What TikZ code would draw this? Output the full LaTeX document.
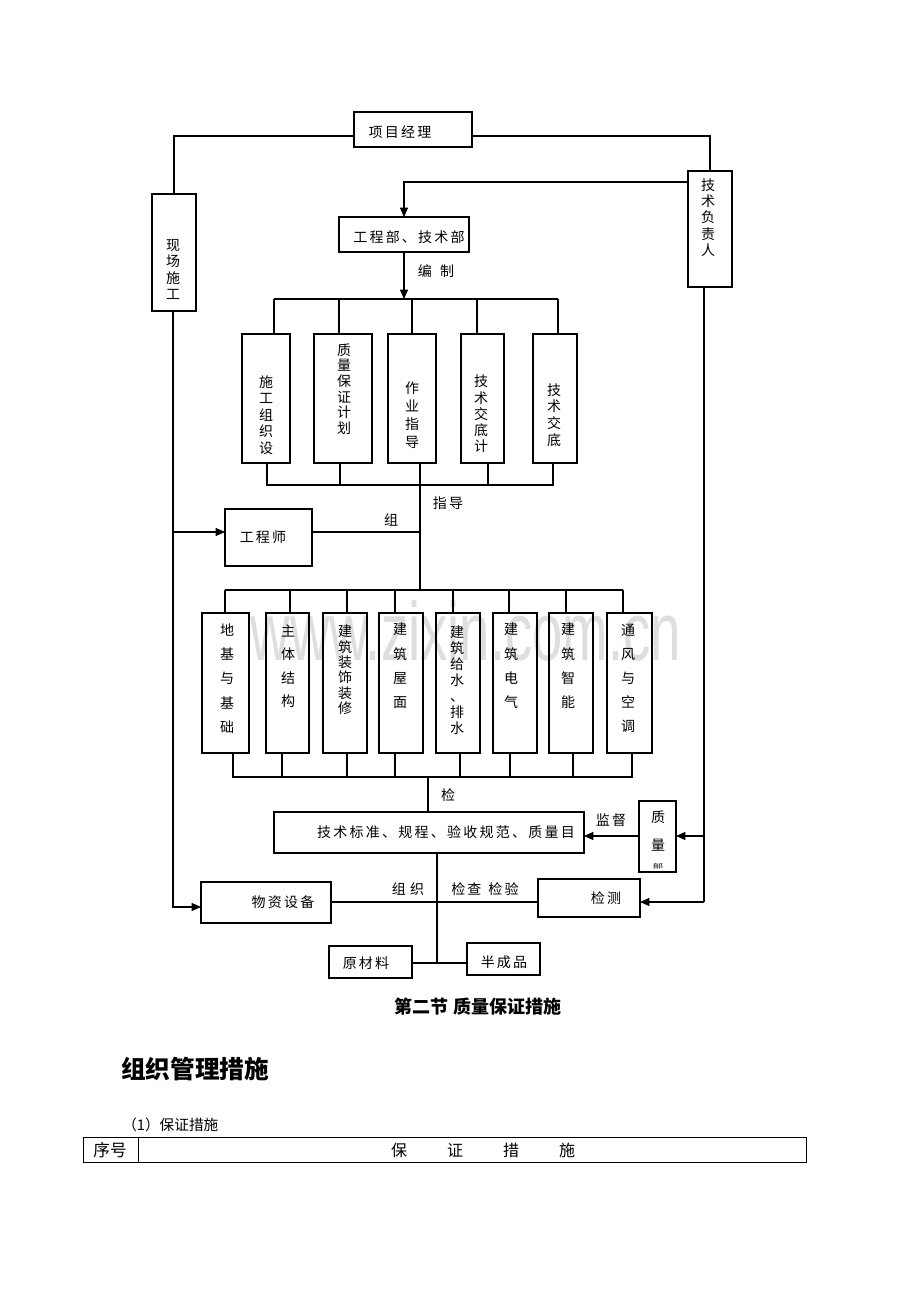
\documentclass[tikz,border=0pt]{standalone}
\usepackage{fontspec}
\setmainfont{Noto Sans CJK SC}
\newfontfamily\cjk{Noto Sans CJK SC}
\newfontfamily\cjks[LetterSpace=16]{Noto Sans CJK SC}
\newfontfamily\wmfont{Liberation Sans}
\usetikzlibrary{arrows.meta}
\tikzset{
  bx/.style={draw, line width=0.9pt, inner sep=0pt, outer sep=0pt},
  ln/.style={line width=0.9pt},
  ar/.style={line width=0.9pt, -{Triangle[length=7pt,width=6pt]}},
  th/.style={inner sep=0pt, font=\cjks\fontsize{10.5}{12.4}\selectfont},
  tv/.style={inner sep=0pt, align=center},
}
\newcommand\mkbox[5]{\node[bx, minimum width={(#4-#2)*0.75pt}, minimum height={(#5-#3)*0.75pt}] (#1) at ({(#2+#4)/2},{(#3+#5)/2}) {};}
\newcommand\vfont[1]{\cjk\fontsize{10.5}{#1}\selectfont}
\begin{document}
\begin{tikzpicture}[x=0.75pt,y=-0.75pt]
\useasboundingbox (0,0) rectangle (920,1302);
\fill[white] (0,0) rectangle (920,1302);
% watermark
\node[inner sep=0pt, anchor=base, xscale=0.66, text=black!13, font=\wmfont\fontsize{62}{62}\selectfont] (wmk) at (466,660) {www.zixin.com.cn};

% ---------- top ----------
\mkbox{pm}{354}{112}{472}{147}
\node[th] (t-pm) at (400,132) {项目经理};
\mkbox{xc}{152}{194}{196}{311}
\node[tv, font=\vfont{12.3}] (t-xc) at (173,269.5) {现\\场\\施\\工};
\mkbox{js}{688}{171}{732}{287}
\node[tv, font=\vfont{12.2}] (t-js) at (708,217.5) {技\\术\\负\\责\\人};
\mkbox{gc}{339}{217}{469}{252}
\node[th] (t-gc) at (409,237) {工程部、技术部};
\node[th] (t-bz) at (436,271) {编\hspace{0.6em}制};

\draw[ln] (pm.west |- 0,136) -| (xc.north);
\draw[ln] (pm.east |- 0,136) -| (js.north);
\draw[ar] (js.west |- 0,182) -| (gc.north);
\coordinate (bus1) at (404,299);
\draw[ar] (gc.south) -- (bus1);

% five boxes
\mkbox{b1}{242}{334}{290}{463}
\mkbox{b2}{314}{334}{372}{463}
\mkbox{b3}{388}{334}{436}{463}
\mkbox{b4}{461}{334}{504}{463}
\mkbox{b5}{533}{334}{577}{463}
\node[tv, font=\vfont{12.4}] (t-b1) at (266,415) {施\\工\\组\\织\\设};
\node[tv, font=\vfont{11.7}] (t-b2) at (344,389) {质\\量\\保\\证\\计\\划};
\node[tv, font=\vfont{13.5}] (t-b3) at (412,415) {作\\业\\指\\导};
\node[tv, font=\vfont{12.2}] (t-b4) at (481,414) {技\\术\\交\\底\\计};
\node[tv, font=\vfont{12.5}] (t-b5) at (554,415) {技\\术\\交\\底};

\draw[ln] (274,299) -- (558,299);
\draw[ln] (274,299) -- (b1.north -| 274,0);
\draw[ln] (339,299) -- (b2.north -| 339,0);
\draw[ln] (412,299) -- (b3.north -| 412,0);
\draw[ln] (477,299) -- (b4.north -| 477,0);
\draw[ln] (558,299) -- (b5.north -| 558,0);

\coordinate (bus2) at (420,485);
\draw[ln] (b1.south -| 267,0) -- (267,485) -- (553,485) -- (b5.south -| 553,0);
\draw[ln] (b2.south -| 340,0) -- (340,485);
\draw[ln] (b3.south -| 420,0) -- (420,485);
\draw[ln] (b4.south -| 488,0) -- (488,485);
\node[th] (t-zd) at (448,503) {指导};

% engineer
\mkbox{gcs}{225}{509}{312}{566}
\node[th] (t-gcs) at (263,537) {工程师};
\coordinate (j1) at (420,532);
\draw[ln] (gcs.east |- 0,532) -- (j1);
\node[th] (t-zu) at (391,520) {组};
\draw[ar] (xc.south -| 173,0) -- (173,532) -- (gcs.west |- 0,532);

% eight boxes
\coordinate (bus3) at (420,590);
\draw[ln] (bus2) -- (bus3);
\mkbox{c1}{202}{613}{249}{753}
\mkbox{c2}{266}{613}{309}{753}
\mkbox{c3}{323}{613}{367}{753}
\mkbox{c4}{379}{613}{423}{753}
\mkbox{c5}{436}{613}{480}{753}
\mkbox{c6}{493}{613}{537}{753}
\mkbox{c7}{549}{613}{593}{753}
\mkbox{c8}{607}{613}{652}{753}
\draw[ln] (225,590) -- (623,590);
\draw[ln] (225,590) -- (c1.north -| 225,0);
\draw[ln] (290,590) -- (c2.north -| 290,0);
\draw[ln] (347,590) -- (c3.north -| 347,0);
\draw[ln] (395,590) -- (c4.north -| 395,0);
\draw[ln] (453,590) -- (c5.north -| 453,0);
\draw[ln] (509,590) -- (c6.north -| 509,0);
\draw[ln] (566,590) -- (c7.north -| 566,0);
\draw[ln] (623,590) -- (c8.north -| 623,0);
\node[tv, font=\vfont{18.2}] (t-c1) at (227,678.5) {地\\基\\与\\基\\础};
\node[tv, font=\vfont{17.6}] (t-c2) at (288,666) {主\\体\\结\\构};
\node[tv, font=\vfont{11.5}] (t-c3) at (345,670) {建\\筑\\装\\饰\\装\\修};
\node[tv, font=\vfont{18.2}] (t-c4) at (400,666) {建\\筑\\屋\\面};
\node[tv, font=\vfont{12}] (t-c5) at (457,680) {建\\筑\\给\\水\\、\\排\\水};
\node[tv, font=\vfont{18.2}] (t-c6) at (511,666) {建\\筑\\电\\气};
\node[tv, font=\vfont{18.2}] (t-c7) at (568,666) {建\\筑\\智\\能};
\node[tv, font=\vfont{18}] (t-c8) at (628,678) {通\\风\\与\\空\\调};

\draw[ln] (c1.south -| 233,0) -- (233,777) -- (632,777) -- (c8.south -| 632,0);
\draw[ln] (c2.south -| 282,0) -- (282,777);
\draw[ln] (c3.south -| 347,0) -- (347,777);
\draw[ln] (c4.south -| 395,0) -- (395,777);
\draw[ln] (c5.south -| 460,0) -- (460,777);
\draw[ln] (c6.south -| 510,0) -- (510,777);
\draw[ln] (c7.south -| 573,0) -- (573,777);

% standards
\mkbox{tb}{274}{812}{584}{853}
\node[th] (t-tb) at (446,832) {技术标准、规程、验收规范、质量目};
\draw[ln] (428,777) -- (tb.north -| 428,0);
\node[th] (t-jian) at (448,795) {检};

\mkbox{zl}{639}{801}{676}{872}
\node[inner sep=0pt, font=\cjk\fontsize{10.5}{10.5}\selectfont] (t-zl1) at (658,817) {质};
\node[inner sep=0pt, font=\cjk\fontsize{10.5}{10.5}\selectfont] (t-zl2) at (658,845) {量};
\node[inner sep=0pt, yscale=0.55, font=\cjk\fontsize{8}{8}\selectfont] (t-zl3) at (658,866) {部};
\draw[ar] (zl.west |- 0,836) -- (tb.east |- 0,836);
\node[th] (t-jd) at (611,820) {监督};

\coordinate (jsb) at (704,902);
\draw[ln] (js.south -| 704,0) -- (jsb);
\draw[ar] (704,836) -- (zl.east |- 0,836);

\mkbox{jc}{538}{879}{640}{917}
\node[th] (t-jc) at (606,898) {检测};
\draw[ar] (jsb) -- (jc.east |- 0,902);

\mkbox{wz}{201}{882}{331}{923}
\node[th] (t-wz) at (283,902) {物资设备};
\draw[ar] (173,532) -- (173,907) -- (wz.west |- 0,907);
\draw[ln] (wz.east |- 0,902) -- (jc.west |- 0,902);
\node[th] (t-zz) at (408,889) {组\hspace{0.3em}织};
\node[th] (t-jcjy) at (485,889) {检查\hspace{0.5em}检验};

\mkbox{ycl}{329}{946}{412}{978}
\node[th] (t-ycl) at (366,963) {原材料};
\mkbox{bcp}{467}{943}{540}{975}
\node[th] (t-bcp) at (504,962) {半成品};
\coordinate (j2) at (437,963);
\draw[ln] (tb.south -| 437,0) -- (j2);
\draw[ln] (ycl.east |- 0,963) -- (bcp.west |- 0,963);

% ---------- text below ----------
\node[inner sep=0pt, font=\cjk\bfseries\fontsize{13.5}{13.5}\selectfont] (t-sec) at (478,1007) {第二节\hspace{0.3em}质量保证措施};
\node[inner sep=0pt, anchor=west, font=\cjk\bfseries\fontsize{18.5}{18.5}\selectfont] (t-org) at (121,1069) {组织管理措施};
\node[inner sep=0pt, anchor=west, font=\cjk\fontsize{11}{11}\selectfont] (t-bz1) at (122,1125) {（1）保证措施};

\draw[line width=0.75pt] (83,1137) rectangle (806,1162);
\draw[line width=0.75pt] (138,1137) -- (138,1162);
\node[inner sep=0pt, font=\cjk\fontsize{12.5}{12.5}\selectfont] (t-xh) at (110,1150) {序号};
\node[inner sep=0pt, font=\cjk\fontsize{12}{12}\selectfont] (t-b) at (399,1150) {保};
\node[inner sep=0pt, font=\cjk\fontsize{12}{12}\selectfont] (t-z) at (455,1150) {证};
\node[inner sep=0pt, font=\cjk\fontsize{12}{12}\selectfont] (t-c) at (511,1150) {措};
\node[inner sep=0pt, font=\cjk\fontsize{12}{12}\selectfont] (t-s) at (567,1150) {施};
\end{tikzpicture}
\end{document}
